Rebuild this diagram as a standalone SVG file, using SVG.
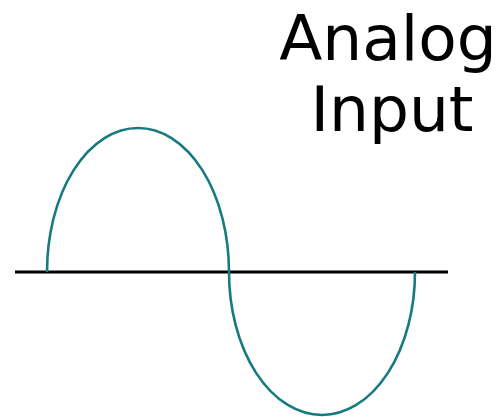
<svg xmlns="http://www.w3.org/2000/svg" width="501" height="417" viewBox="0 0 501 417">
<style>
.t{font-family:"DejaVu Sans",Verdana,sans-serif;font-size:63px;fill:#000;text-anchor:middle}
.wave{fill:none;stroke:#177a80;stroke-width:2.6}
.axis{stroke:#000;stroke-width:3}
</style>
<rect width="501" height="417" fill="#fff"/>
<g id="label">
<text class="t" x="388" y="60">Analog</text>
<text class="t" x="392" y="131">Input</text>
</g>
<g id="axis"><line class="axis" x1="15" y1="272" x2="448" y2="272"/></g>
<g id="wave"><path class="wave" d="M47,272 A91,144 0 0 1 229,272 A93,143 0 0 0 415,272"/></g>
</svg>
